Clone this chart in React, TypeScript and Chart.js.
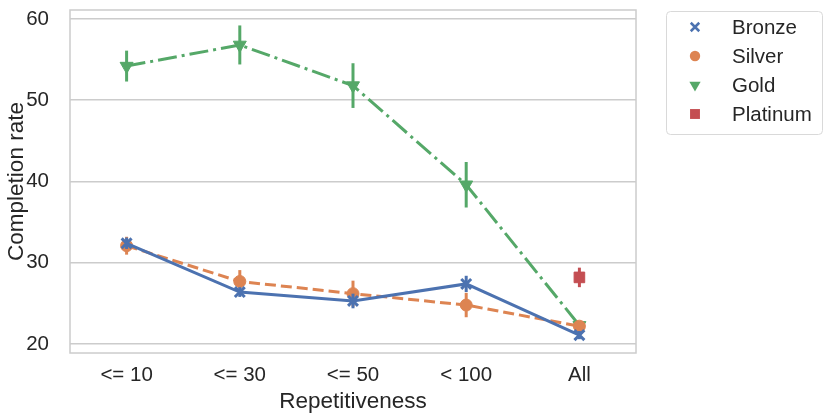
import { useEffect, useRef } from "react"
import { Chart, registerables } from "chart.js"
import { drawPoint } from "chart.js/helpers"

Chart.register(...registerables)

const categories = ["<= 10", "<= 30", "<= 50", "< 100", "All"]
const seriesNames = ["Bronze", "Silver", "Gold", "Platinum"]
const bronze = [32.4, 26.4, 25.3, 27.4, 21.1]
const bronzeErr = [0.7, 0.6, 0.9, 1.0, 0.5]
const silver = [32.1, 27.7, 26.2, 24.8, 22.2]
const silverErr = [1.1, 1.4, 1.6, 1.5, 0.5]
const gold = [54.2, 56.8, 51.8, 39.6, 22.3]
const goldErr = [1.9, 2.4, 2.75, 2.8, 0.5]
const platinum = [null, null, null, null, 28.2]
const platinumErr = [0, 0, 0, 0, 1.2]
const yTicks = [20, 30, 40, 50, 60]

const colors = ["#4C72B0", "#DD8452", "#55A868", "#C44E52"]
const styles = [
  { pointStyle: "crossRot", rotation: 0 },
  { pointStyle: "circle", rotation: 0 },
  { pointStyle: "triangle", rotation: 180 },
  { pointStyle: "rect", rotation: 0 },
]
const errors = [bronzeErr, silverErr, goldErr, platinumErr]

const FONT = "'Liberation Sans', Arial, sans-serif"
const TEXT = "#262626"
const GRID = "#cccccc"

// frame round the plot area (matplotlib spines)
const framePlugin = {
  id: "frame",
  beforeDatasetsDraw(chart: Chart) {
    const { ctx, chartArea } = chart
    ctx.save()
    ctx.strokeStyle = GRID
    ctx.lineWidth = 1.5
    ctx.strokeRect(chartArea.left, chartArea.top, chartArea.right - chartArea.left, chartArea.bottom - chartArea.top)
    ctx.restore()
  },
}

// vertical error bars, drawn under each series' markers
const errorBarPlugin = {
  id: "errorBars",
  beforeDatasetDraw(chart: Chart, args: any) {
    const err = errors[args.index]
    const ds = chart.data.datasets[args.index]
    const y = chart.scales.y
    const { ctx } = chart
    ctx.save()
    ctx.strokeStyle = colors[args.index]
    ctx.lineWidth = 3
    args.meta.data.forEach((pt: any, i: number) => {
      const v = ds.data[i] as number | null
      if (v == null || !err[i]) return
      ctx.beginPath()
      ctx.moveTo(pt.x, y.getPixelForValue(v - err[i]))
      ctx.lineTo(pt.x, y.getPixelForValue(v + err[i]))
      ctx.stroke()
    })
    ctx.restore()
  },
}

// boxed legend to the right of the plot
const legendPlugin = {
  id: "boxLegend",
  afterDraw(chart: Chart) {
    const { ctx, chartArea } = chart
    const left = chartArea.right + 30
    const top = chartArea.top + 1
    const w = 156
    const h = 123
    const radii = [6, 5.2, 6.5, 7]
    ctx.save()
    ctx.strokeStyle = "#d9d9d9"
    ctx.lineWidth = 1
    ctx.beginPath()
    ctx.roundRect(left + 0.5, top + 0.5, w, h, 4)
    ctx.fillStyle = "#ffffff"
    ctx.fill()
    ctx.stroke()
    seriesNames.forEach((name, i) => {
      const cy = top + 16 + i * 29
      ctx.fillStyle = colors[i]
      ctx.strokeStyle = colors[i]
      ctx.lineWidth = 2.5
      drawPoint(ctx, { pointStyle: styles[i].pointStyle as any, rotation: styles[i].rotation, radius: radii[i], borderWidth: i === 0 ? 2.5 : 0 }, left + 29, cy)
      ctx.fillStyle = TEXT
      ctx.font = `20.5px ${FONT}`
      ctx.textBaseline = "middle"
      ctx.fillText(name, left + 66, cy + 1)
    })
    ctx.restore()
  },
}

export default function App() {
  const chartRef = useRef<HTMLCanvasElement>(null)
  const chartInstance = useRef<Chart | null>(null)

  useEffect(() => {
    document.body.style.margin = "0"
    if (!chartRef.current) return
    if (chartInstance.current) chartInstance.current.destroy()
    const ctx = chartRef.current.getContext("2d")
    if (!ctx) return

    const seriesData = [bronze, silver, gold, platinum]
    const dashes = [[], [11, 5], [19, 5, 3, 5], []]
    const radii = [7, 6, 7.5, 7.5]

    chartInstance.current = new Chart(ctx, {
      type: "line",
      data: {
        labels: categories,
        datasets: seriesData.map((d, i) => ({
          label: seriesNames[i],
          data: d,
          borderColor: colors[i],
          backgroundColor: colors[i],
          borderWidth: 3,
          borderDash: dashes[i],
          borderCapStyle: "butt" as const,
          showLine: i < 3,
          pointStyle: styles[i].pointStyle as any,
          rotation: styles[i].rotation,
          pointRadius: radii[i],
          pointBorderWidth: i === 0 ? 3 : 1,
          tension: 0,
        })),
      },
      options: {
        responsive: true,
        maintainAspectRatio: false,
        animation: false,
        layout: { padding: { left: 0, top: 9, right: 195, bottom: 0 } },
        plugins: {
          legend: { display: false },
          tooltip: { enabled: false },
        },
        scales: {
          x: {
            offset: true,
            grid: { display: false },
            border: { display: false },
            ticks: { color: TEXT, font: { family: FONT, size: 20.5 }, padding: 2 },
            title: {
              display: true,
              text: "Repetitiveness",
              color: TEXT,
              font: { family: FONT, size: 22.5 },
              padding: { top: 5, bottom: 5 },
            },
            afterFit: (axis: any) => {
              axis.height = 67
              axis.paddingLeft = 0
              axis.paddingRight = 0
            },
          },
          y: {
            min: 18.9,
            max: 61.1,
            afterBuildTicks: (axis: any) => {
              axis.ticks = yTicks.map((v) => ({ value: v }))
            },
            grid: { color: GRID, lineWidth: 1.5, drawTicks: false },
            border: { display: false },
            ticks: { color: TEXT, font: { family: FONT, size: 20.5 }, padding: 21 },
            title: {
              display: true,
              text: "Completion rate",
              color: TEXT,
              font: { family: FONT, size: 22.5 },
              padding: { top: 3.5, bottom: 3.5 },
            },
            afterFit: (axis: any) => {
              axis.width = 70
              axis.paddingTop = 0
              axis.paddingBottom = 0
            },
          },
        },
      },
      plugins: [framePlugin, errorBarPlugin, legendPlugin],
    })

    return () => {
      if (chartInstance.current) {
        chartInstance.current.destroy()
        chartInstance.current = null
      }
    }
  }, [])

  return (
    <div style={{ width: 831, height: 420, position: "relative" }}>
      <canvas ref={chartRef} />
    </div>
  )
}
